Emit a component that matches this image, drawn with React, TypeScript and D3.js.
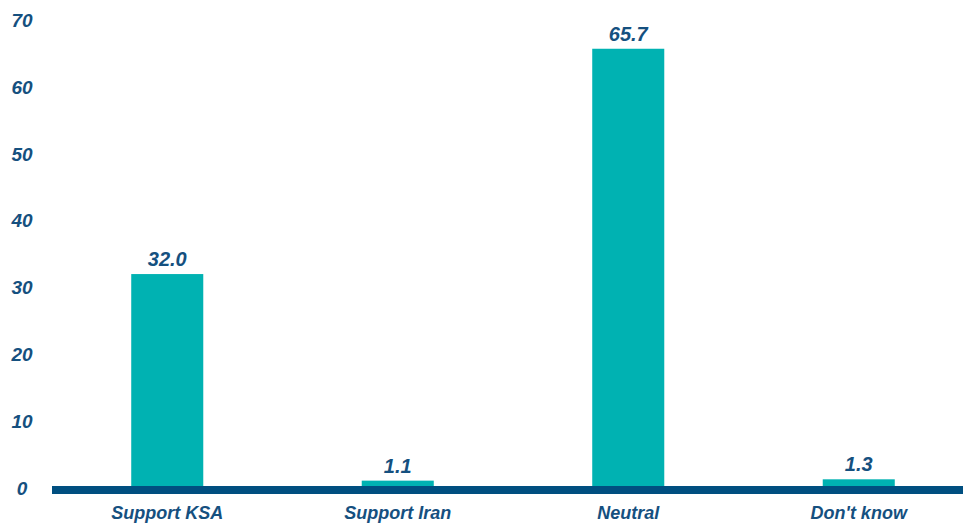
import React from "react";
import * as d3 from "d3";

const categories = ["Support KSA", "Support Iran", "Neutral", "Don't know"];
const values = [32.0, 1.1, 65.7, 1.3];
const yTicks = [0, 10, 20, 30, 40, 50, 60, 70];

const W = 963;
const H = 527;
const FONT = "'Liberation Sans', Arial, sans-serif";
const TEXT_COLOR = "#15507f";
const BAR_COLOR = "#00b2b2";
const BASE_COLOR = "#004f80";

export default function App() {
  const x = d3
    .scaleBand<string>()
    .domain(categories)
    .range([52, 974])
    .paddingInner(0.6875)
    .paddingOuter(0.34375);
  const y = d3.scaleLinear().domain([0, 70]).range([488, 20]);

  return (
    <div style={{ position: "absolute", left: 0, top: 0 }}>
      <svg width={W} height={H} style={{ display: "block", background: "#fff" }}>
        {yTicks.map((t) => (
          <text
            key={t}
            x={22}
            y={y(t)}
            dy="0.36em"
            textAnchor="middle"
            fontFamily={FONT}
            fontWeight="bold"
            fontStyle="italic"
            fontSize={19}
            fill={TEXT_COLOR}
          >
            {t}
          </text>
        ))}
        {categories.map((c, i) => {
          const bx = x(c) as number;
          const top = y(values[i]);
          return (
            <g key={c}>
              <rect x={bx} y={top} width={x.bandwidth()} height={y(0) - top} fill={BAR_COLOR} />
              <text
                x={bx + x.bandwidth() / 2}
                y={top - 8}
                textAnchor="middle"
                fontFamily={FONT}
                fontWeight="bold"
                fontStyle="italic"
                fontSize={20}
                fill={TEXT_COLOR}
              >
                {values[i].toFixed(1)}
              </text>
              <text
                x={bx + x.bandwidth() / 2}
                y={519}
                textAnchor="middle"
                fontFamily={FONT}
                fontWeight="bold"
                fontStyle="italic"
                fontSize={18}
                fill={TEXT_COLOR}
              >
                {c}
              </text>
            </g>
          );
        })}
        <line x1={52} x2={W} y1={490} y2={490} stroke={BASE_COLOR} strokeWidth={8} />
      </svg>
    </div>
  );
}
